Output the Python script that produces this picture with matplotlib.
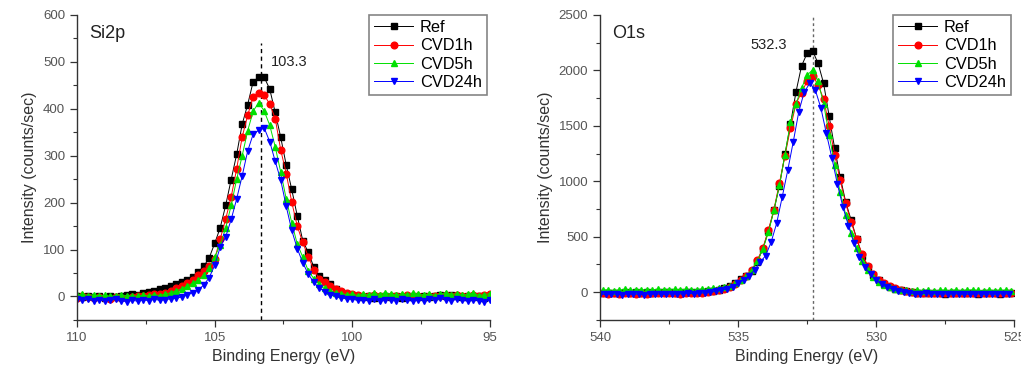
# -*- coding: utf-8 -*-

import numpy as np
import matplotlib
matplotlib.use("Agg")
import matplotlib.pyplot as plt
from matplotlib.ticker import MultipleLocator

plt.rcParams['font.family'] = ['Liberation Sans', 'DejaVu Sans']

# Si2p scan : 110 -> 95 eV, pas de 0.2 eV
e_si = np.linspace(110.0, 95.0, 76)

si_ref = [0, -2, 1, -1, 0, -3, 1, -1, 2, 3,
          6, 4, 8, 10, 12, 16, 19, 23, 27, 31,
          36, 42, 52, 64, 82, 113, 146, 194, 249, 303,
          367, 409, 458, 467, 467, 442, 392, 339, 280, 228,
          172, 119, 94, 63, 44, 34, 26, 16, 10, 6,
          3, 1, -2, 0, -3, -1, 2, -2, 0, -3,
          -1, 1, -2, 0, -1, 2, 3, 1, 4, 2,
          -1, 1, -2, 0, -3, -1]
si_1h = [-3, 0, -2, -4, -1, -3, -5, -2, -4, -3,
         -2, 0, 1, 3, 5, 6, 8, 12, 18, 22,
         28, 35, 45, 55, 64, 80, 122, 165, 212, 272,
         340, 386, 426, 433, 429, 410, 379, 312, 262, 201,
         150, 115, 85, 57, 38, 30, 22, 15, 12, 8,
         6, 4, 2, 0, 3, 1, -1, 2, 0, 1,
         3, 0, 2, -1, 1, 0, 2, 4, 1, 3,
         0, 2, 4, 1, 3, 5]
si_5h = [3, 5, 2, 4, 1, 3, 0, 2, 4, 1,
         2, 0, 3, 1, 4, 2, 5, 8, 12, 16,
         22, 28, 35, 45, 60, 84, 109, 146, 194, 250,
         300, 353, 395, 413, 395, 365, 319, 265, 208, 157,
         112, 84, 55, 38, 26, 18, 12, 8, 6, 4,
         5, 2, 6, 3, 7, 4, 8, 5, 3, 6,
         4, 7, 5, 3, 6, 2, 5, 8, 4, 6,
         3, 5, 7, 2, 4, 6]
si_24h = [-5, -8, -6, -9, -7, -10, -8, -6, -9, -11,
          -8, -10, -7, -9, -6, -8, -7, -5, -4, -1,
          3, 8, 14, 24, 40, 66, 105, 127, 164, 208,
          257, 310, 346, 354, 359, 330, 288, 248, 192, 141,
          102, 72, 48, 30, 18, 10, 4, 0, -3, -5,
          -6, -8, -7, -9, -6, -10, -8, -7, -9, -6,
          -8, -10, -7, -9, -6, -8, -4, -7, -9, -6,
          -8, -10, -7, -9, -11, -8]

# O1s scan : 539.9 -> 525.1 eV (CVD24h decale de 0.1 eV)
e_o = np.linspace(539.9, 525.1, 75)
e_o_24h = np.linspace(540.0, 525.2, 75)

o_ref = [-5, -8, -3, -6, -2, -5, 0, -4, -1, -3,
         2, -2, 1, -3, 0, -2, 3, 1, 5, 8,
         15, 22, 35, 55, 85, 120, 150, 190, 275, 392,
         551, 738, 961, 1244, 1515, 1807, 2039, 2153, 2177, 2063,
         1883, 1587, 1298, 1039, 813, 648, 479, 330, 230, 155,
         110, 75, 50, 32, 18, 8, 0, -5, -8, -6,
         -10, -7, -12, -9, -6, -11, -8, -10, -13, -9,
         -11, -8, -12, -10, -9]
o_1h = [-10, -14, -9, -12, -8, -11, -13, -9, -12, -10,
        -8, -11, -7, -10, -12, -8, -6, -9, -4, 0,
        8, 18, 30, 48, 75, 110, 150, 200, 290, 400,
        560, 745, 985, 1230, 1480, 1700, 1800, 1900, 1950, 1870,
        1740, 1500, 1240, 1010, 800, 630, 480, 340, 240, 165,
        112, 80, 55, 35, 20, 10, 2, -4, -7, -5,
        -9, -6, -10, -8, -5, -9, -7, -10, -8, -6,
        -9, -7, -10, -8, -6]
o_5h = [18, 22, 15, 20, 25, 17, 21, 24, 19, 23,
        26, 20, 24, 28, 22, 25, 19, 23, 27, 30,
        35, 40, 48, 60, 80, 110, 150, 200, 280, 390,
        540, 740, 965, 1240, 1530, 1700, 1840, 1955, 2005, 1900,
        1700, 1420, 1150, 900, 700, 530, 400, 285, 200, 135,
        90, 62, 45, 30, 22, 18, 15, 20, 14, 18,
        12, 17, 20, 15, 19, 13, 18, 21, 16, 14,
        19, 15, 20, 17, 13]
o_24h = [-15, -20, -12, -18, -22, -14, -19, -16, -21, -13,
         -18, -15, -20, -12, -17, -14, -10, -13, -8, -5,
         0, 8, 18, 30, 50, 80, 110, 150, 200, 270,
         330, 452, 623, 858, 1099, 1355, 1626, 1807, 1883, 1822,
         1662, 1431, 1211, 973, 768, 600, 440, 320, 225, 160,
         110, 70, 45, 25, 10, 0, -8, -12, -15, -11,
         -16, -13, -18, -14, -12, -17, -15, -19, -13, -16,
         -14, -18, -12, -16, -15]

noms = ['Ref', 'CVD1h', 'CVD5h', 'CVD24h']
couleurs = ['black', '#ff0000', '#00e000', '#0000ff']
marqueurs = ['s', 'o', '^', 'v']


def trace(ax, energies, series, xlim, ylim, ymaj, pic, texte_pic, pos_texte, titre, ls_pic, c_pic):
    for e, y, nom, c, m in zip(energies, series, noms, couleurs, marqueurs):
        ax.plot(e, y, color=c, lw=0.7, marker=m, ms=4.8, mec=c, mfc=c, label=nom)
    ax.plot([pic, pic], [ylim[0], ylim[1]], color=c_pic, ls=ls_pic, lw=1.0, zorder=0)
    ax.text(pos_texte[0], pos_texte[1], texte_pic, fontsize=10.5, color='#222222', ha='left', va='center')
    ax.text(0.03, 0.925, titre, transform=ax.transAxes, fontsize=13, color='#222222')

    ax.set_xlim(xlim)
    ax.set_ylim(ylim)
    ax.xaxis.set_major_locator(MultipleLocator(5))
    ax.xaxis.set_minor_locator(MultipleLocator(2.5))
    ax.yaxis.set_major_locator(MultipleLocator(ymaj))
    ax.yaxis.set_minor_locator(MultipleLocator(ymaj / 2))
    ax.spines['top'].set_visible(False)
    ax.spines['right'].set_visible(False)
    for s in ['left', 'bottom']:
        ax.spines[s].set_color('#333333')
        ax.spines[s].set_linewidth(1.0)
    ax.tick_params(which='major', direction='out', length=5, width=0.9, colors='#333333',
                   labelcolor='#555555', labelsize=9.5)
    ax.tick_params(which='minor', direction='out', length=3, width=0.8, colors='#333333')
    ax.set_xlabel("Binding Energy (eV)", fontsize=11.5, color='#333333', labelpad=4)
    ax.set_ylabel("Intensity (counts/sec)", fontsize=11.5, color='#333333', labelpad=4)

    leg = ax.legend(loc='upper right', bbox_to_anchor=(1.0, 1.01), fontsize=11.8, frameon=True,
                    fancybox=False, edgecolor='#666666', handlelength=2.4, handletextpad=0.4,
                    borderpad=0.3, labelspacing=0.2, borderaxespad=0.2)
    leg.get_frame().set_linewidth(1.2)


fig = plt.figure(figsize=(10.21, 3.72), dpi=100)
ax1 = fig.add_axes([0.0754, 0.140, 0.4045, 0.820])
ax2 = fig.add_axes([0.5877, 0.140, 0.4055, 0.820])

trace(ax1, [e_si] * 4, [si_ref, si_1h, si_5h, si_24h], (110, 95), (-50, 600), 100,
      103.3, '103.3', (102.95, 500), 'Si2p', (0, (3, 2.5)), 'black')
ax1.lines[4].set_data([103.3, 103.3], [-50, 540])

trace(ax2, [e_o, e_o, e_o, e_o_24h], [o_ref, o_1h, o_5h, o_24h], (540, 525), (-250, 2500), 500,
      532.3, '532.3', (534.55, 2230), 'O1s', (0, (2, 2)), '#666666')

plt.savefig('out.png', dpi=100)
